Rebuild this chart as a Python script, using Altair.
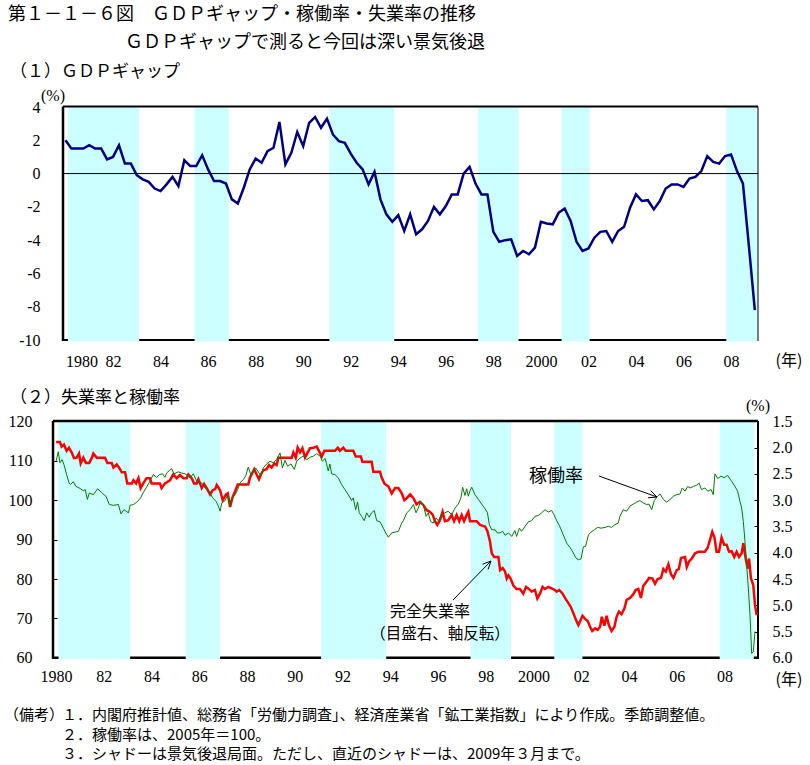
import math
import altair as alt
import pandas as pd

# ---------------- data ----------------
# (1) GDP gap, quarterly 1980Q1 - 2009Q1 (%)
gdp_gap = [2.0, 1.5, 1.5, 1.5, 1.7, 1.5, 1.5, 0.85, 1.0, 1.7,
           0.6, 0.6, -0.1, -0.35, -0.5, -0.9, -1.05, -0.65, -0.2, -0.75,
           0.8, 0.45, 0.45, 1.1, 0.25, -0.45, -0.45, -0.6, -1.55, -1.8,
           -0.85, 0.25, 0.9, 0.65, 1.35, 1.55, 3.1, 0.55, 1.25, 2.5,
           1.65, 3.05, 3.4, 2.75, 3.3, 2.35, 1.95, 1.85, 1.2, 0.65,
           0.25, -0.65, 0.1, -1.55, -2.45, -2.9, -2.5, -3.45, -2.45, -3.65,
           -3.35, -2.85, -2.0, -2.45, -1.95, -1.25, -1.25, 0.0, 0.4, -0.6,
           -1.25, -1.25, -3.5, -4.1, -4.0, -3.95, -4.95, -4.65, -4.85, -4.45,
           -2.9, -3.0, -3.05, -2.35, -2.1, -2.85, -4.1, -4.65, -4.5, -3.85,
           -3.5, -3.45, -4.1, -3.45, -3.2, -2.05, -1.25, -1.65, -1.6, -2.15,
           -1.65, -0.9, -0.65, -0.65, -0.8, -0.3, -0.2, 0.15, 1.05, 0.7,
           0.6, 1.05, 1.15, 0.15, -0.6, -4.35, -8.2]
gdp_t = [1980 + i / 4 for i in range(len(gdp_gap))]

# (2) capacity utilisation (2005=100)
util_t = [1980.00, 1980.09, 1980.16, 1980.25, 1980.33, 1980.44, 1980.54, 1980.61, 1980.72, 1980.83,
          1981.00, 1981.14, 1981.22, 1981.31, 1981.39, 1981.56, 1981.74, 1981.91, 1982.09, 1982.23,
          1982.40, 1982.61, 1982.72, 1982.84, 1983.03, 1983.10, 1983.24, 1983.40, 1983.54, 1983.65,
          1983.79, 1983.93, 1984.07, 1984.21, 1984.33, 1984.46, 1984.56, 1984.63, 1984.74, 1984.84,
          1984.94, 1985.12, 1985.26, 1985.40, 1985.50, 1985.61, 1985.75, 1985.89, 1986.10, 1986.24,
          1986.42, 1986.56, 1986.70, 1986.80, 1986.87, 1986.94, 1987.08, 1987.19, 1987.29, 1987.38,
          1987.50, 1987.61, 1987.70, 1987.84, 1987.94, 1988.05, 1988.17, 1988.26, 1988.36, 1988.47,
          1988.58, 1988.68, 1988.82, 1988.96, 1989.10, 1989.24, 1989.38, 1989.48, 1989.59, 1989.70,
          1989.84, 1989.98, 1990.08, 1990.22, 1990.36, 1990.50, 1990.64, 1990.78, 1990.92, 1991.06,
          1991.15, 1991.27, 1991.33, 1991.40, 1991.47, 1991.54, 1991.68, 1991.82, 1991.96, 1992.10,
          1992.24, 1992.38, 1992.45, 1992.55, 1992.63, 1992.70, 1992.80, 1992.91, 1993.01, 1993.11,
          1993.22, 1993.33, 1993.43, 1993.57, 1993.71, 1993.81, 1993.92, 1994.06, 1994.20, 1994.34,
          1994.48, 1994.55, 1994.69, 1994.83, 1994.97, 1995.08, 1995.17, 1995.27, 1995.38, 1995.50,
          1995.59, 1995.69, 1995.80, 1995.92, 1996.01, 1996.15, 1996.29, 1996.43, 1996.57, 1996.71,
          1996.85, 1996.96, 1997.03, 1997.13, 1997.20, 1997.27, 1997.34, 1997.41, 1997.55, 1997.69,
          1997.83, 1997.97, 1998.07, 1998.15, 1998.25, 1998.39, 1998.48, 1998.60, 1998.71, 1998.81,
          1998.95, 1999.09, 1999.22, 1999.29, 1999.41, 1999.50, 1999.64, 1999.78, 1999.92, 2000.06,
          2000.20, 2000.34, 2000.48, 2000.62, 2000.76, 2000.86, 2000.97, 2001.08, 2001.25, 2001.39,
          2001.53, 2001.67, 2001.78, 2001.88, 2001.99, 2002.09, 2002.18, 2002.30, 2002.41, 2002.55,
          2002.69, 2002.83, 2003.00, 2003.13, 2003.27, 2003.41, 2003.55, 2003.62, 2003.76, 2003.90,
          2004.04, 2004.18, 2004.32, 2004.46, 2004.60, 2004.74, 2004.84, 2004.95, 2005.06, 2005.20,
          2005.30, 2005.44, 2005.58, 2005.72, 2005.86, 2006.00, 2006.14, 2006.23, 2006.35, 2006.46,
          2006.56, 2006.70, 2006.84, 2006.93, 2007.04, 2007.18, 2007.30, 2007.44, 2007.53, 2007.60,
          2007.72, 2007.85, 2007.99, 2008.13, 2008.30, 2008.44, 2008.55, 2008.65, 2008.72, 2008.79,
          2008.86, 2008.93, 2009.00, 2009.07, 2009.14, 2009.21, 2009.28]
util_v = [109.9, 112.3, 109.5, 110.3, 109.0, 106.5, 104.4, 104.0, 104.7, 103.5,
          103.0, 102.4, 102.7, 100.2, 101.8, 101.4, 102.9, 101.9, 101.0, 98.9,
          98.7, 98.9, 96.5, 97.6, 96.8, 98.7, 98.9, 99.6, 100.6, 101.9,
          103.3, 104.8, 106.5, 105.8, 106.5, 106.7, 105.8, 106.9, 107.5, 108.0,
          106.7, 107.2, 106.9, 106.7, 106.3, 105.7, 106.7, 104.8, 104.4, 103.1,
          102.1, 100.6, 99.7, 98.5, 97.2, 99.3, 99.9, 101.4, 98.5, 100.6,
          101.4, 102.7, 104.4, 105.2, 106.1, 108.4, 106.3, 107.4, 108.2, 107.2,
          106.2, 108.2, 109.2, 109.9, 109.5, 110.3, 112.0, 108.2, 110.1, 108.6,
          109.2, 107.8, 109.9, 110.7, 111.2, 110.3, 110.9, 111.2, 111.8, 111.2,
          109.9, 110.6, 109.2, 107.4, 109.2, 106.7, 106.5, 105.7, 104.0, 102.7,
          101.4, 99.9, 100.6, 97.6, 99.5, 96.8, 95.9, 94.8, 96.8, 95.7,
          96.8, 97.4, 94.8, 94.5, 92.9, 91.7, 90.6, 91.7, 91.9, 92.1,
          94.2, 94.8, 96.8, 97.6, 98.9, 96.8, 98.0, 99.7, 98.9, 95.9,
          96.8, 94.6, 94.2, 95.5, 94.8, 96.3, 96.8, 97.2, 96.3, 98.0,
          99.0, 100.6, 103.3, 101.2, 102.9, 101.0, 102.4, 103.3, 101.4, 100.2,
          99.0, 97.8, 96.8, 93.8, 92.5, 92.5, 91.7, 91.7, 92.1, 91.1,
          91.7, 90.8, 92.3, 90.8, 92.9, 92.1, 93.3, 94.5, 94.8, 95.9,
          96.1, 96.8, 97.6, 97.0, 97.4, 96.3, 94.8, 93.6, 91.2, 89.1,
          88.0, 86.6, 85.3, 84.9, 85.1, 88.2, 88.2, 91.2, 91.9, 92.5,
          93.1, 92.9, 93.1, 93.4, 93.1, 93.8, 94.2, 95.9, 97.6, 97.2,
          98.5, 99.0, 99.5, 99.9, 99.3, 98.9, 99.0, 97.6, 99.9, 101.0,
          101.6, 100.2, 99.5, 100.2, 101.0, 101.4, 101.6, 103.1, 102.3, 103.5,
          103.1, 103.5, 103.8, 104.4, 102.7, 103.1, 102.3, 102.7, 101.4, 106.7,
          105.5, 106.1, 105.7, 106.3, 104.8, 103.5, 102.3, 99.7, 98.0, 94.6,
          89.5, 83.6, 77.7, 70.9, 61.1, 61.6, 66.7]

# unemployment rate (%), right axis, inverted
unemp_t = [1980.00, 1980.16, 1980.23, 1980.33, 1980.44, 1980.54, 1980.65, 1980.75, 1980.86, 1980.96,
           1981.03, 1981.14, 1981.25, 1981.39, 1981.49, 1981.56, 1981.70, 1982.05, 1982.15, 1982.33,
           1982.40, 1982.54, 1982.64, 1982.75, 1982.89, 1982.98, 1983.17, 1983.24, 1983.35, 1983.45,
           1983.54, 1983.65, 1983.79, 1983.93, 1984.00, 1984.35, 1984.42, 1984.56, 1984.77, 1984.91,
           1985.05, 1985.19, 1985.33, 1985.47, 1985.54, 1985.68, 1985.78, 1985.89, 1985.96, 1986.03,
           1986.10, 1986.20, 1986.31, 1986.45, 1986.56, 1986.66, 1986.73, 1986.87, 1986.98, 1987.12,
           1987.19, 1987.29, 1987.38, 1987.50, 1987.61, 1988.05, 1988.12, 1988.19, 1988.30, 1988.40,
           1988.50, 1988.58, 1988.68, 1988.82, 1988.92, 1989.03, 1989.14, 1989.24, 1989.31, 1989.87,
           1989.94, 1990.04, 1990.12, 1990.22, 1990.32, 1990.43, 1990.54, 1990.64, 1990.78, 1990.92,
           1991.01, 1991.13, 1991.24, 1991.68, 1991.80, 1991.89, 1992.03, 1992.13, 1992.45, 1992.55,
           1992.77, 1992.83, 1993.22, 1993.29, 1993.57, 1993.64, 1993.75, 1993.92, 1994.06, 1994.20,
           1994.34, 1994.48, 1994.59, 1994.69, 1994.83, 1994.97, 1995.10, 1995.24, 1995.38, 1995.52,
           1995.66, 1995.78, 1995.87, 1995.97, 1996.08, 1996.19, 1996.29, 1996.43, 1996.57, 1996.67,
           1996.78, 1996.89, 1996.99, 1997.09, 1997.20, 1997.27, 1997.34, 1997.62, 1997.76, 1997.97,
           1998.07, 1998.18, 1998.25, 1998.35, 1998.53, 1998.60, 1998.71, 1998.81, 1998.88, 1998.95,
           1999.04, 1999.15, 1999.29, 1999.43, 1999.57, 1999.69, 1999.78, 1999.92, 2000.06, 2000.16,
           2000.27, 2000.38, 2000.48, 2000.62, 2000.76, 2000.90, 2000.97, 2001.08, 2001.22, 2001.32,
           2001.46, 2001.56, 2001.67, 2001.78, 2001.88, 2002.05, 2002.16, 2002.27, 2002.37, 2002.46,
           2002.58, 2002.69, 2002.79, 2002.86, 2002.97, 2003.06, 2003.16, 2003.27, 2003.39, 2003.48,
           2003.58, 2003.69, 2003.81, 2003.90, 2004.04, 2004.18, 2004.28, 2004.39, 2004.50, 2004.60,
           2004.74, 2004.84, 2004.98, 2005.09, 2005.20, 2005.34, 2005.44, 2005.54, 2005.65, 2005.76,
           2005.86, 2006.00, 2006.09, 2006.18, 2006.35, 2006.42, 2006.51, 2006.63, 2006.77, 2006.91,
           2007.18, 2007.30, 2007.39, 2007.49, 2007.58, 2007.67, 2007.77, 2007.88, 2007.99, 2008.09,
           2008.19, 2008.30, 2008.41, 2008.51, 2008.61, 2008.72, 2008.79, 2008.89, 2008.97, 2009.03,
           2009.11, 2009.21, 2009.28, 2009.35]
unemp_v = [1.89, 1.89, 1.98, 1.94, 2.06, 2.00, 2.09, 2.20, 2.19, 2.11,
           2.30, 2.19, 2.29, 2.29, 2.20, 2.11, 2.19, 2.19, 2.29, 2.29,
           2.38, 2.32, 2.38, 2.47, 2.47, 2.68, 2.68, 2.62, 2.68, 2.58,
           2.77, 2.68, 2.58, 2.58, 2.68, 2.68, 2.77, 2.68, 2.62, 2.51,
           2.58, 2.52, 2.58, 2.58, 2.51, 2.58, 2.68, 2.68, 2.60, 2.68,
           2.77, 2.69, 2.77, 2.89, 2.81, 2.79, 2.71, 2.81, 3.00, 2.89,
           2.87, 3.13, 2.96, 2.83, 2.70, 2.70, 2.57, 2.51, 2.41, 2.51,
           2.60, 2.51, 2.43, 2.41, 2.33, 2.38, 2.30, 2.33, 2.19, 2.19,
           2.09, 2.19, 2.00, 2.09, 2.01, 2.19, 2.09, 2.01, 2.00, 1.98,
           2.06, 2.17, 2.06, 2.06, 2.00, 2.06, 2.00, 2.06, 2.06, 2.17,
           2.17, 2.27, 2.27, 2.46, 2.46, 2.57, 2.68, 2.74, 2.87, 2.77,
           2.77, 2.87, 3.00, 2.96, 2.89, 2.96, 3.08, 3.03, 3.09, 3.19,
           3.22, 3.28, 3.40, 3.47, 3.38, 3.22, 3.40, 3.38, 3.28, 3.40,
           3.28, 3.40, 3.28, 3.40, 3.28, 3.22, 3.40, 3.40, 3.47, 3.50,
           3.59, 3.79, 4.01, 4.08, 4.08, 4.33, 4.29, 4.36, 4.49, 4.43,
           4.49, 4.62, 4.69, 4.69, 4.78, 4.65, 4.68, 4.74, 4.71, 4.87,
           4.78, 4.65, 4.69, 4.65, 4.68, 4.71, 4.74, 4.71, 4.78, 4.86,
           4.96, 5.03, 5.15, 5.28, 5.38, 5.20, 5.26, 5.30, 5.41, 5.49,
           5.44, 5.47, 5.41, 5.22, 5.39, 5.20, 5.38, 5.49, 5.41, 5.22,
           5.12, 5.17, 5.06, 4.90, 4.86, 4.79, 4.71, 4.69, 4.86, 4.63,
           4.55, 4.48, 4.49, 4.59, 4.50, 4.48, 4.31, 4.36, 4.22, 4.41,
           4.48, 4.33, 4.31, 4.10, 4.08, 4.27, 4.17, 4.11, 4.01, 3.98,
           3.98, 3.90, 3.76, 3.60, 3.71, 3.98, 3.98, 3.71, 3.85, 3.85,
           3.98, 3.97, 4.08, 3.98, 4.08, 4.01, 3.82, 4.11, 4.30, 4.11,
           4.49, 4.62, 5.00, 5.19]

# recession periods (shaded)
rec_start = [1980.10, 1985.43, 1991.10, 1997.36, 2000.87, 2007.80]
rec_end = [1983.10, 1986.87, 1993.83, 1999.06, 2002.05, 2009.23]

year_ticks = list(range(1980, 2009, 2))
gdp_ticks = list(range(-10, 5, 2))
util_ticks = list(range(60, 121, 10))
unemp_ticks = [1.5, 2.0, 2.5, 3.0, 3.5, 4.0, 4.5, 5.0, 5.5, 6.0]

# ---------------- layout ----------------
W, H = 810, 765
JP = "Noto Sans CJK JP"
NUM = "Liberation Serif"
SHADE = "#CCFFFF"

T_L, T_R, T_T, T_B = 63, 758, 107, 340
B_L, B_R, B_T, B_B = 53, 758, 421.4, 657.8

df_gdp = pd.DataFrame({"t": gdp_t, "v": gdp_gap})
df_util = pd.DataFrame({"t": util_t, "v": util_v})
df_unemp = pd.DataFrame({"t": unemp_t, "u": unemp_v})
df_rec = pd.DataFrame({"s": rec_start, "e": rec_end})
df_zero = pd.DataFrame({"z": [0]})
one = pd.DataFrame({"k": [0]})

top_x = alt.Scale(domain=[1980 - 2.5 / 23.77, 1980 + 692.5 / 23.77], range=[T_L, T_R],
                  clamp=True, nice=False, zero=False)
top_y = alt.Scale(domain=[-10, 4], range=[T_B, T_T], nice=False, zero=False)
bot_x = alt.Scale(domain=[1979.87, 2009.405], range=[B_L, B_R], clamp=True, nice=False, zero=False)
bot_yl = alt.Scale(domain=[60, 120], range=[B_B, B_T], nice=False, zero=False)
bot_yr = alt.Scale(domain=[1.5, 6.0], range=[B_T, B_B], nice=False, zero=False)

year_expr = ("datum.value == 1980 || datum.value == 2000 ? '' + datum.value : "
             "((datum.value % 100) < 10 ? '0' : '') + (datum.value % 100)")

common = dict(grid=False, domain=False, title="", labelFont=NUM, labelFontSize=16,
              labelColor="black", labelOverlap=False)

top_x_axis = alt.Axis(orient="bottom", offset=T_B - H, values=year_ticks, labelExpr=year_expr,
                      ticks=False, tickSize=0, labelPadding=13, labelFlush=10, **common)
top_y_axis = alt.Axis(orient="left", offset=-T_L, values=gdp_ticks, labelExpr="'' + datum.value",
                      ticks=False, tickSize=0, labelPadding=23, **common)
bot_x_axis = alt.Axis(orient="bottom", offset=B_B - H, values=year_ticks, labelExpr=year_expr,
                      ticks=False, tickSize=0, labelPadding=11, labelFlush=False, **common)
bot_yl_axis = alt.Axis(orient="left", offset=-(B_L + 4), values=util_ticks,
                       labelExpr="'' + datum.value", ticks=True, tickSize=4, tickColor="black",
                       tickWidth=1, labelPadding=21, **common)
bot_yr_axis = alt.Axis(orient="right", offset=(B_R - 4) - W, values=unemp_ticks,
                       labelExpr="format(datum.value, '.1f')", ticks=True, tickSize=4,
                       tickColor="black", tickWidth=1, labelPadding=14, **common)


def seg(x0, y0, x1, y1, w=1.0, color="black"):
    return alt.Chart(one).mark_rule(color=color, strokeWidth=w).encode(
        x=alt.value(x0), y=alt.value(y0), x2=alt.value(x1), y2=alt.value(y1))


def txt(s, x, y, size=17, align="left", font=JP):
    return alt.Chart(one).mark_text(align=align, baseline="middle", font=font,
                                    fontSize=size, color="black").encode(
        x=alt.value(x), y=alt.value(y), text=alt.value(s))


def arrow(x0, y0, x1, y1, head=9, ang=25):
    a = math.atan2(y1 - y0, x1 - x0)
    out = [seg(x0, y0, x1, y1)]
    for sgn in (1, -1):
        b = a + math.pi + sgn * math.radians(ang)
        out.append(seg(x1, y1, x1 + head * math.cos(b), y1 + head * math.sin(b)))
    return out


layers = []
# ---- top panel ----
layers.append(seg(T_L, T_B, T_R, T_B, w=2))
layers.append(alt.Chart(df_rec).mark_rect(color=SHADE).encode(
    x=alt.X("s:Q", scale=top_x, axis=None), x2="e:Q",
    y=alt.value(T_T), y2=alt.value(T_B + 1.5)))
layers.append(alt.Chart(df_zero).mark_rule(color="black", strokeWidth=1).encode(
    y=alt.Y("z:Q", scale=top_y, axis=None), x=alt.value(T_L), x2=alt.value(T_R)))
layers.append(seg(T_L, T_T - 0.5, T_L, T_B + 1, w=2.5))
layers.append(seg(T_L, T_T - 0.5, T_R, T_T - 0.5, w=2))
layers.append(seg(T_R, T_T - 0.5, T_R, T_B + 1, w=1))
layers.append(alt.Chart(df_gdp).mark_line(color="#000080", strokeWidth=2.5).encode(
    x=alt.X("t:Q", scale=top_x, axis=top_x_axis),
    y=alt.Y("v:Q", scale=top_y, axis=top_y_axis)))

# ---- bottom panel ----
layers.append(seg(B_L, B_B, B_R, B_B, w=2.5))
layers.append(alt.Chart(df_rec).mark_rect(color=SHADE).encode(
    x=alt.X("s:Q", scale=bot_x, axis=None), x2="e:Q",
    y=alt.value(B_T), y2=alt.value(B_B + 1.5)))
layers.append(seg(B_L, B_T - 0.5, B_L, B_B + 1.2, w=2.5))
layers.append(seg(B_L, B_T - 0.5, B_R, B_T - 0.5, w=2.5))
layers.append(seg(B_R, B_T - 0.5, B_R, B_B + 1.2, w=2))
layers.append(alt.Chart(df_unemp).mark_line(color="#FF0000", strokeWidth=2.5).encode(
    x=alt.X("t:Q", scale=bot_x, axis=None),
    y=alt.Y("u:Q", scale=bot_yr, axis=bot_yr_axis)))
layers.append(alt.Chart(df_util).mark_line(color="#008000", strokeWidth=1).encode(
    x=alt.X("t:Q", scale=bot_x, axis=bot_x_axis),
    y=alt.Y("v:Q", scale=bot_yl, axis=bot_yl_axis)))

# ---- texts ----
layers += [
    txt("第１－１－６図　ＧＤＰギャップ・稼働率・失業率の推移", 8, 15, size=18),
    txt("ＧＤＰギャップで測ると今回は深い景気後退", 125, 43, size=18),
    txt("（１）ＧＤＰギャップ", 10, 72, size=17),
    txt("(%)", 53, 96, size=16, align="center", font=NUM),
    txt("(年)", 789, 361, size=16, align="center"),
    txt("（２）失業率と稼働率", 10, 398, size=17),
    txt("(%)", 758, 406, size=16, align="center", font=NUM),
    txt("(年)", 789, 680, size=16, align="center"),
    txt("稼働率", 556, 477, size=18, align="center"),
    txt("完全失業率", 430, 612, size=16, align="center"),
    txt("（目盛右、軸反転）", 440, 634, size=15.5, align="center"),
    txt("（備考）", 4, 715, size=15),
    txt("１．内閣府推計値、総務省「労働力調査」、経済産業省「鉱工業指数」により作成。季節調整値。", 62, 715, size=15),
    txt("２．稼働率は、2005年＝100。", 62, 734.5, size=15),
    txt("３．シャドーは景気後退局面。ただし、直近のシャドーは、2009年３月まで。", 62, 754, size=15),
]
layers += arrow(599, 476, 657, 497)
layers += arrow(453, 600, 491, 561)

chart = alt.layer(*layers).resolve_scale(
    x="independent", y="independent"
).properties(
    width=W, height=H, autosize=alt.AutoSizeParams(type="none"), padding=0
).configure_view(stroke=None)

chart.save("out.html", embed_options={"renderer": "svg", "actions": False})
